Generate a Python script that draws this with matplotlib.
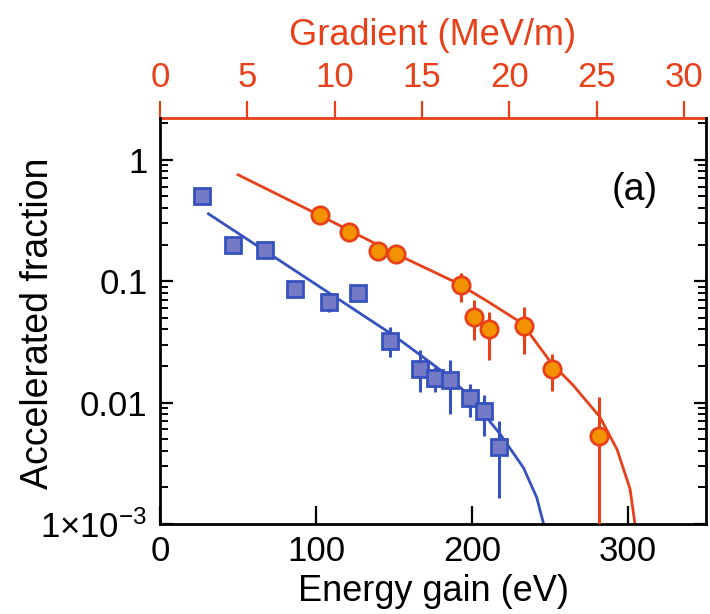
import numpy as np
import matplotlib
matplotlib.use('Agg')
import matplotlib.pyplot as plt
from matplotlib.ticker import FixedLocator, FixedFormatter, LogLocator, NullFormatter

plt.rcParams['font.family'] = ['Liberation Sans', 'DejaVu Sans']
plt.rcParams['mathtext.fontset'] = 'custom'
plt.rcParams['mathtext.rm'] = 'Liberation Sans'
plt.rcParams['mathtext.it'] = 'Liberation Sans'

# blue squares: energy gain (eV), fraction, error bar low / high
blue_e = [27, 46.5, 67, 86.5, 108.5, 127, 147.5, 166.5, 176.5, 186, 199, 207.5, 217]
blue_f = [0.50, 0.20, 0.18, 0.086, 0.067, 0.079, 0.032, 0.019, 0.0158, 0.0152, 0.0109, 0.0085, 0.0043]
blue_lo = [0.48, 0.19, 0.17, 0.073, 0.056, 0.068, 0.0237, 0.0121, 0.0122, 0.0081, 0.0076, 0.0053, 0.00163]
blue_hi = [0.52, 0.21, 0.19, 0.090, 0.070, 0.091, 0.0419, 0.0269, 0.0196, 0.0222, 0.0143, 0.0116, 0.0071]

# orange circles
orange_e = [102.5, 121, 139.5, 151.5, 193, 201.5, 211, 233, 251, 281.5]
orange_f = [0.35, 0.255, 0.178, 0.166, 0.093, 0.051, 0.040, 0.043, 0.019, 0.0053]
orange_lo = [0.34, 0.245, 0.17, 0.158, 0.0675, 0.0325, 0.0222, 0.0252, 0.0124, 0.0005]
orange_hi = [0.36, 0.265, 0.186, 0.174, 0.1157, 0.0697, 0.0557, 0.0613, 0.0252, 0.0112]

# fit curves
red_fit_e = [50, 100, 150, 190, 210, 232, 251, 265, 282, 293, 301.3, 305.5]
red_fit_f = [0.75, 0.36, 0.17, 0.097, 0.068, 0.045, 0.021, 0.0138, 0.0076, 0.0041, 0.00194, 0.0008]
blue_fit_e = [31, 60, 90, 120, 150, 167, 180, 197, 218, 233, 241.5, 247]
blue_fit_f = [0.358, 0.204, 0.114, 0.0636, 0.0355, 0.0245, 0.0184, 0.0118, 0.0055, 0.0029, 0.00165, 0.00088]

y_ticks = [1e-3, 1e-2, 1e-1, 1]
y_labels = ['1\u00d710$^{\\mathregular{-3}}$', '0.01', '0.1', '1']
grad_ticks = [0, 5, 10, 15, 20, 25, 30]
length_um = 11.2  # gradient (MeV/m) = energy (eV) / length (um)

RED = '#e8401a'
ORANGE = '#f39200'
BLUE = '#3552be'
BLUE_FILL = '#747ac6'

fig = plt.figure(figsize=(7.1, 6.14), dpi=100)
ax = fig.add_axes([0.2254, 0.1466, 0.769, 0.6612])

ax.plot(red_fit_e, red_fit_f, color=RED, lw=2, zorder=2)
ax.plot(blue_fit_e, blue_fit_f, color=BLUE, lw=2, zorder=2)

bf = np.array(blue_f)
ax.errorbar(blue_e, blue_f, yerr=[bf - np.array(blue_lo), np.array(blue_hi) - bf],
            fmt='s', ms=11.5, mfc=BLUE_FILL, mec=BLUE, mew=2, ecolor=BLUE,
            elinewidth=2.2, capsize=0, zorder=3)
of = np.array(orange_f)
ax.errorbar(orange_e, orange_f, yerr=[of - np.array(orange_lo), np.array(orange_hi) - of],
            fmt='o', ms=12.5, mfc=ORANGE, mec=RED, mew=2, ecolor=RED,
            elinewidth=2.2, capsize=0, zorder=3)

ax.set_yscale('log')
ax.set_xlim(0, 350)
ax.set_ylim(1e-3, 2.2)

ax.yaxis.set_major_locator(FixedLocator(y_ticks))
ax.yaxis.set_major_formatter(FixedFormatter(y_labels))
ax.yaxis.set_minor_locator(LogLocator(base=10, subs=np.arange(2, 10)))
ax.yaxis.set_minor_formatter(NullFormatter())
ax.set_xticks([0, 100, 200, 300])

ax.tick_params(axis='y', which='major', direction='in', length=9, width=1.6,
               left=True, right=True, labelsize=25, pad=9)
ax.tick_params(axis='y', which='minor', direction='in', length=6, width=1.4,
               left=True, right=True)
ax.tick_params(axis='x', which='major', direction='in', length=13, width=1.6,
               top=False, labelsize=25, pad=8)

for s in ['left', 'right', 'bottom']:
    ax.spines[s].set_linewidth(2)
ax.spines['top'].set_visible(False)

ax.set_xlabel('Energy gain (eV)', fontsize=26)
ax.set_ylabel('Accelerated fraction', fontsize=27)
# label sits close to the tick labels, clear of the wide 1x10^-3 one
ax.yaxis.set_label_coords(-0.19, 0.495)

secax = ax.secondary_xaxis('top', functions=(lambda e: e / length_um, lambda g: g * length_um))
secax.set_xticks(grad_ticks)
secax.tick_params(axis='x', which='major', direction='out', length=12, width=1.6,
                  colors=RED, labelsize=25, pad=5)
secax.tick_params(axis='x', which='minor', length=0)
secax.spines['top'].set_color(RED)
secax.spines['top'].set_linewidth(2)
secax.set_xlabel('Gradient (MeV/m)', fontsize=26, color=RED, labelpad=12)

ax.text(0.87, 0.823, '(a)', transform=ax.transAxes, fontsize=27,
        ha='center', va='center')

fig.savefig('out.png', dpi=100)
